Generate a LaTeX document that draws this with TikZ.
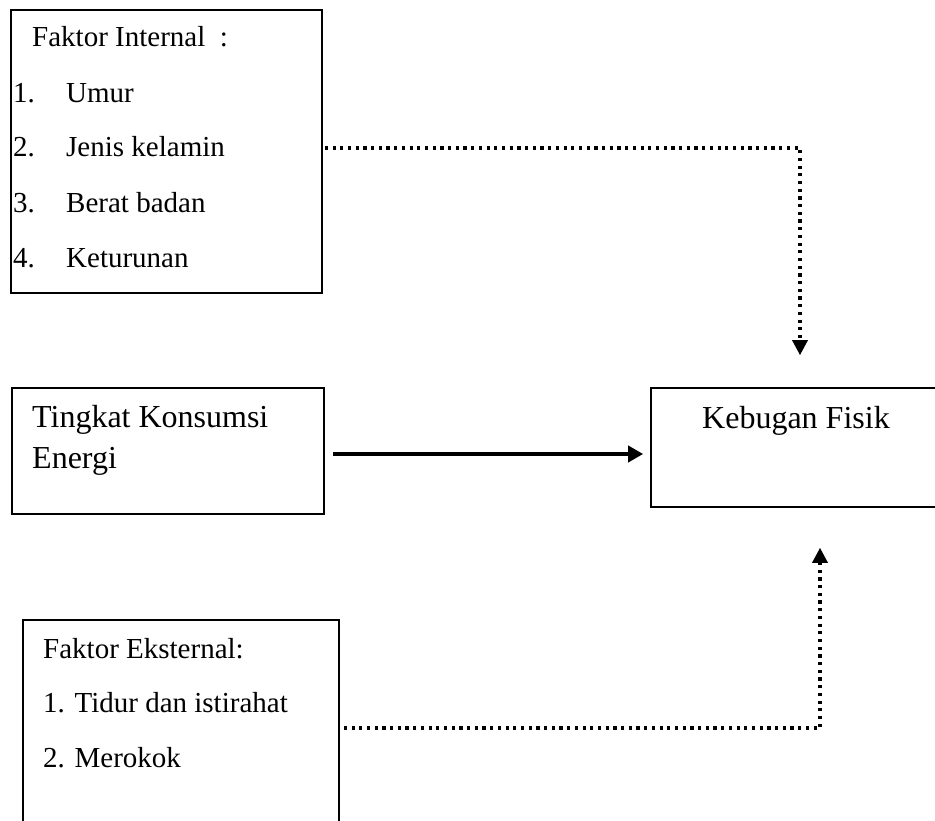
\documentclass[tikz,border=0pt]{standalone}
\usepackage{fontspec}
\setmainfont{Liberation Serif}
\usetikzlibrary{arrows.meta}
\tikzset{
  boxnode/.style={draw, line width=1.6pt, rectangle, inner sep=0pt},
  txt/.style={anchor=base west, inner sep=0pt, font=\fontsize{29}{34}\selectfont},
  bigtxt/.style={anchor=base west, inner sep=0pt, font=\fontsize{32}{38}\selectfont},
  dotline/.style={line width=3.2pt, dash pattern=on 3.2pt off 4.5pt, -{Triangle[length=15pt,width=15pt]}},
  solidarrow/.style={line width=3.6pt, -{Triangle[length=15pt,width=16pt]}}
}
\begin{document}
\begin{tikzpicture}[x=1pt,y=-1pt]
\useasboundingbox (0,0) rectangle (935,821);
% boxes
\node[boxnode, minimum width=311pt, minimum height=283pt] (int) at (166.5,151.5) {};
\node[boxnode, minimum width=312pt, minimum height=126pt] (ting) at (168,451) {};
\node[boxnode, minimum width=298pt, minimum height=119pt] (keb) at (800,447.5) {};
\node[boxnode, minimum width=316pt, minimum height=240pt] (ext) at (181,740) {};
% top box text
\node[txt] (fi) at (32,47) {Faktor Internal\ \ :};
\node[txt] (n1) at (13,103) {1.};
\node[txt] (umur) at (66,103) {Umur};
\node[txt] (n2) at (13,157) {2.};
\node[txt] (jen) at (66,157) {Jenis kelamin};
\node[txt] (n3) at (13,213) {3.};
\node[txt] (ber) at (66,213) {Berat badan};
\node[txt] (n4) at (13,268) {4.};
\node[txt] (ket) at (66,268) {Keturunan};
% middle texts
\node[bigtxt] (tk) at (32,427) {Tingkat Konsumsi};
\node[bigtxt] (en) at (32,468) {Energi};
\node[bigtxt] (kf) at (702,428) {Kebugan Fisik};
% bottom box text
\node[txt] (fe) at (43,658) {Faktor Eksternal:};
\node[txt] (tid) at (43,712) {1. Tidur dan istirahat};
\node[txt] (mer) at (43,767) {2. Merokok};
% connectors
\coordinate (c1) at ([xshift=2pt]int.east |- 0,148);
\coordinate (t1) at ([yshift=32pt]keb.north);
\draw[dotline] (c1) -| (t1);
\coordinate (c2) at ([xshift=4pt]ext.east |- 0,728);
\coordinate (t2) at ([xshift=20pt,yshift=-40pt]keb.south);
\draw[dotline] (c2) -| (t2);
\coordinate (a1) at ([xshift=8pt]ting.east |- 0,454);
\coordinate (kw) at ([xshift=-7pt]keb.west);
\draw[solidarrow] (a1) -- (a1 -| kw);
\end{tikzpicture}
\end{document}
